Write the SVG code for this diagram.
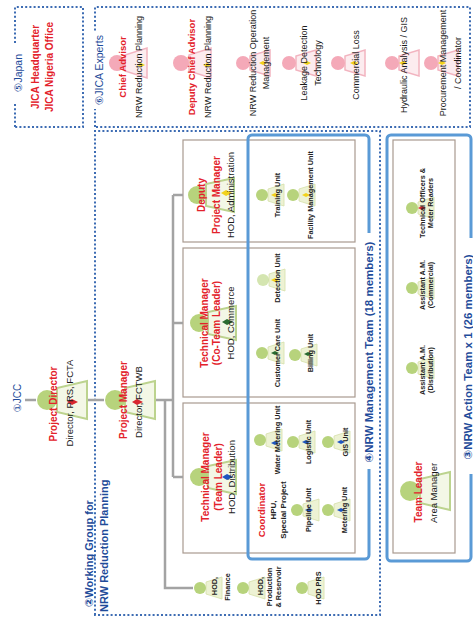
<svg xmlns="http://www.w3.org/2000/svg" width="473" height="619" viewBox="0 0 473 619">
<defs>
<style>
.dot{fill:none;stroke:#3d6cb3;stroke-width:2;stroke-dasharray:2 2.2}
.blue{fill:none;stroke:#5a9ad6;stroke-width:3}
.grey{fill:#fff;stroke:#a89a90;stroke-width:1.2}
.conn{fill:none;stroke:#a3a3a3;stroke-width:2.5}
text{font-family:"Liberation Sans",Arial,"DejaVu Sans",sans-serif}
.ttl{font-size:10px;font-weight:bold;fill:#e3222b;text-anchor:middle}
.ttl2{font-size:9.5px;font-weight:bold;fill:#e3222b;text-anchor:middle}
.sub{font-size:9.5px;fill:#1a1a1a;text-anchor:middle}
.exp{font-size:9px;fill:#1a1a1a;text-anchor:middle}
.unit{font-size:7.3px;font-weight:bold;fill:#222;text-anchor:middle}
.grp{font-size:11px;font-weight:bold;fill:#1f4c9a}
.hd{font-size:10.5px;fill:#1f4c9a;text-anchor:middle}
.gh{fill:#b7d37c}
.gb{fill:#f3f7e6;stroke:#bcd38e;stroke-width:2}
.ub{fill:#edf2d4;stroke:#d5e0a8;stroke-width:0.8}
.ph{fill:#f4a9b8}
.pb{fill:#fcecef;stroke:#f2b4c0;stroke-width:1.5}
.tr{fill:#d8262e}.tb{fill:#1f55c0}.tg{fill:#2a6a30}.ty{fill:#f2d21c}
</style>
</defs>
<rect width="473" height="619" fill="#fff"/>
<g transform="translate(0,619) rotate(-90)">

<!-- group boxes -->
<g id="japan">
<rect class="dot" x="492" y="15" width="120" height="68"/>
<rect x="516" y="10" width="60" height="14" fill="#fff"/>
<text class="hd" x="546" y="22">⑤Japan</text>
<text class="ttl" x="552" y="39">JICA Headquarter</text>
<text class="ttl" x="552" y="52.5">JICA Nigeria Office</text>
</g>

<g id="jica-experts">
<rect class="dot" x="492" y="95" width="120" height="375"/>
<rect x="510" y="92" width="78" height="14" fill="#fff"/>
<text class="hd" x="549" y="103">⑥JICA Experts</text>
</g>

<g id="working-group">
<rect class="dot" x="4" y="95" width="484" height="285"/>
<text class="grp" x="12" y="93">②Working Group for</text>
<text class="grp" x="7" y="108">NRW Reduction Planning</text>
</g>

<!-- manager boxes -->
<rect class="grey" x="377" y="183" width="102" height="172"/>
<rect class="grey" x="222" y="183" width="149" height="172"/>
<rect class="grey" x="66" y="183" width="150" height="172"/>

<g id="nrw-management-team">
<rect class="blue" x="60" y="248" width="424" height="121" rx="4"/>
<rect x="150" y="361" width="236" height="14" fill="#fff"/>
<text class="grp" x="267" y="372.5" text-anchor="middle" style="font-size:11.5px">④NRW Management Team (18 members)</text>
</g>

<g id="nrw-action-team">
<rect class="blue" x="58" y="387" width="426" height="84" rx="4"/>
<rect class="grey" x="66" y="393" width="413" height="62"/>
<rect x="145" y="461" width="236" height="12" fill="#fff"/>
<text class="grp" x="262" y="472" text-anchor="middle" style="font-size:11.5px">③NRW Action Team x 1 (26 members)</text>
</g>

<!-- connectors -->
<g id="connectors" class="conn">
<line x1="219" y1="25" x2="219" y2="36"/>
<line x1="219" y1="88" x2="219" y2="104"/>
<line x1="219" y1="156" x2="219" y2="173"/>
<line x1="142" y1="173" x2="424" y2="173"/>
<line x1="424" y1="173" x2="424" y2="183"/>
<line x1="296" y1="173" x2="296" y2="183"/>
<line x1="142" y1="173" x2="142" y2="183"/>
<polyline points="219,165 31,165 31,193"/>
</g>

<!-- JCC -->
<g id="jcc"><text class="hd" x="221" y="21" style="font-size:10px">①JCC</text></g>

<g id="project-director">
<path class="gb" d="M207,57 L231,57 L238,87 L200,87 Z"/>
<circle class="gh" cx="219" cy="47" r="10"/>
<path class="tr" d="M217,67 L220,72 L217,78 L214,72 Z"/>
<text class="ttl" x="215" y="57">Project Director</text>
<text class="sub" x="216" y="73">Director, PRS, FCTA</text>
</g>

<g id="project-manager">
<path class="gb" d="M207,125 L231,125 L238,155 L200,155 Z"/>
<circle class="gh" cx="219" cy="115" r="10"/>
<path class="tr" d="M217,132 L220,137 L217,143 L214,137 Z"/>
<text class="ttl" x="219" y="127">Project Manager</text>
<text class="sub" x="217" y="142">Director, FCTWB</text>
</g>

<g id="deputy-pm">
<path class="gb" d="M413,206 L435,206 L441,234 L407,234 Z"/>
<circle class="gh" cx="424" cy="197" r="9"/>
<path class="ty" d="M426,221 L429,226 L426,232 L423,226 Z"/>
<text class="ttl" x="424" y="205">Deputy</text>
<text class="ttl" x="424" y="220">Project Manager</text>
<text class="sub" x="424" y="234">HOD, Administration</text>
</g>

<g id="tm-coteam">
<path class="gb" d="M285,208 L307,208 L313,236 L279,236 Z"/>
<circle class="gh" cx="296" cy="199" r="9"/>
<path class="tg" d="M297,222 L300,227 L297,233 L294,227 Z"/>
<text class="ttl" x="296" y="208">Technical Manager</text>
<text class="ttl" x="296" y="220">(Co-Team Leader)</text>
<text class="sub" x="296" y="233.5">HOD, Commerce</text>
</g>

<g id="tm-teamleader">
<path class="gb" d="M131,208 L153,208 L159,236 L125,236 Z"/>
<circle class="gh" cx="142" cy="199" r="9"/>
<path class="tb" d="M142,222 L145,227 L142,233 L139,227 Z"/>
<text class="ttl" x="142" y="209">Technical Manager</text>
<text class="ttl" x="142" y="222">(Team Leader)</text>
<text class="sub" x="142" y="235">HOD, Distribution</text>
</g>

<!-- HODs -->
<g id="hod-finance">
<path class="ub" d="M25,206 L37,206 L42,222 L20,222 Z"/>
<circle class="gh" cx="31" cy="200" r="6"/>
<text class="unit" x="33" y="216.5">HOD,</text>
<text class="unit" x="32" y="229.5">Finance</text>
</g>
<g id="hod-production">
<path class="ub" d="M25,249 L37,249 L42,265 L20,265 Z"/>
<circle class="gh" cx="31" cy="243" r="6"/>
<text class="unit" x="33" y="263">HOD,</text>
<text class="unit" x="32" y="272">Production</text>
<text class="unit" x="32" y="280.5">&amp; Reservoir</text>
</g>
<g id="hod-prs">
<path class="ub" d="M25,308 L37,308 L42,324 L20,324 Z"/>
<circle class="gh" cx="31" cy="302" r="6"/>
<text class="unit" x="31" y="321">HOD PRS</text>
</g>

<!-- deputy units -->
<g id="training-unit">
<path class="ub" d="M418,268 L430,268 L435,284 L413,284 Z"/>
<circle class="gh" cx="424" cy="262" r="6"/>
<path class="ty" d="M424,271 L426,275 L424,279 L422,275 Z"/>
<text class="unit" x="424" y="280">Training Unit</text>
</g>
<g id="facility-unit">
<path class="ub" d="M418,299 L430,299 L435,315 L413,315 Z"/>
<circle class="gh" cx="424" cy="293" r="6"/>
<path class="ty" d="M424,302 L426,306 L424,310 L422,306 Z"/>
<text class="unit" x="424" y="313">Facility Management Unit</text>
</g>

<!-- co-team units -->
<g id="detection-unit">
<path class="ub" d="M333,269 L345,269 L350,285 L328,285 Z"/>
<circle class="gh" cx="339" cy="263" r="6" opacity="0.6"/>
<path class="ty" d="M339,271 L341,275 L339,279 L337,275 Z"/>
<text class="unit" x="341" y="280">Detection Unit</text>
</g>
<g id="customer-care-unit">
<path class="ub" d="M260,268 L272,268 L277,284 L255,284 Z"/>
<circle class="gh" cx="266" cy="262" r="6"/>
<path class="tg" d="M266,271 L268,275 L266,279 L264,275 Z"/>
<text class="unit" x="266" y="280">Customer Care Unit</text>
</g>
<g id="billing-unit">
<path class="ub" d="M258,301 L270,301 L275,317 L253,317 Z"/>
<circle class="gh" cx="264" cy="295" r="6"/>
<path class="tg" d="M265,304 L267,308 L265,312 L263,308 Z"/>
<text class="unit" x="266" y="313">Billing Unit</text>
</g>

<!-- team leader units -->
<g id="water-metering-unit">
<path class="ub" d="M173,266 L185,266 L190,282 L168,282 Z"/>
<circle class="gh" cx="179" cy="260" r="6"/>
<path class="tb" d="M176,271 L178,275 L176,279 L174,275 Z"/>
<text class="unit" x="179" y="280">Water Metering Unit</text>
</g>
<g id="logistic-unit">
<path class="ub" d="M171,299 L183,299 L188,315 L166,315 Z"/>
<circle class="gh" cx="177" cy="293" r="6"/>
<path class="tb" d="M177,302 L179,306 L177,310 L175,306 Z"/>
<text class="unit" x="177" y="311">Logistic Unit</text>
</g>
<g id="gis-unit">
<path class="ub" d="M171,334 L183,334 L188,350 L166,350 Z"/>
<circle class="gh" cx="177" cy="328" r="6"/>
<path class="tb" d="M177,337 L179,341 L177,345 L175,341 Z"/>
<text class="unit" x="177" y="348">GIS Unit</text>
</g>
<g id="coordinator">
<text class="ttl2" x="109" y="265">Coordinator</text>
<text class="unit" x="109" y="276" style="font-size:8px">HPU,</text>
<text class="unit" x="109" y="286" style="font-size:8px">Special Project</text>
</g>
<g id="pipeline-unit">
<path class="ub" d="M103,303 L115,303 L120,319 L98,319 Z"/>
<circle class="gh" cx="109" cy="297" r="6"/>
<path class="tb" d="M109,305 L111,309 L109,313 L107,309 Z"/>
<text class="unit" x="109" y="311">Pipeline Unit</text>
</g>
<g id="metering-unit">
<path class="ub" d="M103,334 L115,334 L120,350 L98,350 Z"/>
<circle class="gh" cx="109" cy="328" r="6"/>
<path class="tb" d="M109,337 L111,341 L109,345 L107,341 Z"/>
<text class="unit" x="109" y="347">Metering Unit</text>
</g>

<!-- action team -->
<g id="team-leader">
<path class="gb" d="M116,420 L140,420 L147,450 L109,450 Z"/>
<circle class="gh" cx="128" cy="410" r="10"/>
<text class="ttl" x="127" y="422">Team Leader</text>
<text class="sub" x="126" y="437">Area Manager</text>
</g>
<g id="assistant-distribution">
<path class="ub" d="M245,418 L257,418 L262,434 L240,434 Z"/>
<circle class="gh" cx="251" cy="412" r="6"/>
<text class="unit" x="249" y="425">Assistant A.M.</text>
<text class="unit" x="249" y="433">(Distribution)</text>
</g>
<g id="assistant-commercial">
<path class="ub" d="M325,418 L337,418 L342,434 L320,434 Z"/>
<circle class="gh" cx="331" cy="412" r="6"/>
<text class="unit" x="334" y="425">Assistant A.M.</text>
<text class="unit" x="334" y="433">(Commercial)</text>
</g>
<g id="technical-officers">
<path class="ub" d="M405,418 L417,418 L422,434 L400,434 Z"/>
<circle class="gh" cx="411" cy="412" r="6"/>
<path class="tr" d="M411,418 L413,422 L411,426 L409,422 Z"/>
<text class="unit" x="416" y="425">Technical Officers &amp;</text>
<text class="unit" x="416" y="433">Meter Readers</text>
</g>

<!-- JICA experts -->
<g id="chief-advisor">
<path class="pb" d="M548,125 L564,125 L571,147 L541,147 Z"/>
<circle class="ph" cx="556" cy="117" r="8"/>
<path class="ty" d="M554,137 L556,141 L554,145 L552,141 Z"/>
<text class="ttl2" x="552" y="126">Chief Advisor</text>
<text class="exp" x="552" y="142">NRW Reduction Planning</text>
</g>
<g id="deputy-chief-advisor">
<path class="pb" d="M548,189 L564,189 L571,211 L541,211 Z"/>
<circle class="ph" cx="556" cy="181" r="8"/>
<path class="ty" d="M554,203 L556,207 L554,211 L552,207 Z"/>
<text class="ttl2" x="552" y="195">Deputy Chief Advisor</text>
<text class="exp" x="552" y="211">NRW Reduction Planning</text>
</g>
<g id="expert-operation">
<path class="pb" d="M549,250 L563,250 L569,270 L543,270 Z"/>
<circle class="ph" cx="556" cy="243" r="7"/>
<path class="ty" d="M556,259 L558,263 L556,267 L554,263 Z"/>
<text class="exp" x="556" y="256">NRW Reduction Operation</text>
<text class="exp" x="556" y="269">Management</text>
</g>
<g id="expert-leakage">
<path class="pb" d="M549,296 L563,296 L569,316 L543,316 Z"/>
<circle class="ph" cx="556" cy="289" r="7"/>
<path class="ty" d="M556,303 L558,307 L556,311 L554,307 Z"/>
<text class="exp" x="556" y="306.5">Leakage Detection</text>
<text class="exp" x="556" y="321">Technology</text>
</g>
<g id="expert-commercial">
<path class="pb" d="M549,345 L563,345 L569,365 L543,365 Z"/>
<circle class="ph" cx="556" cy="338" r="7"/>
<path class="ty" d="M556,350 L558,354 L556,358 L554,354 Z"/>
<text class="exp" x="554" y="358.5">Commercial Loss</text>
</g>
<g id="expert-hydraulic">
<path class="pb" d="M549,399 L563,399 L569,419 L543,419 Z"/>
<circle class="ph" cx="556" cy="392" r="7"/>
<path class="ty" d="M556,399 L558,403 L556,407 L554,403 Z"/>
<text class="exp" x="554" y="406.5">Hydraulic Analysis / GIS</text>
</g>
<g id="expert-procurement">
<path class="pb" d="M549,438 L563,438 L569,458 L543,458 Z"/>
<circle class="ph" cx="556" cy="431" r="7"/>
<path class="ty" d="M556,438 L558,442 L556,446 L554,442 Z"/>
<text class="exp" x="556" y="446">Procurement Management</text>
<text class="exp" x="556" y="461">/ Coordinator</text>
</g>

</g>
</svg>
